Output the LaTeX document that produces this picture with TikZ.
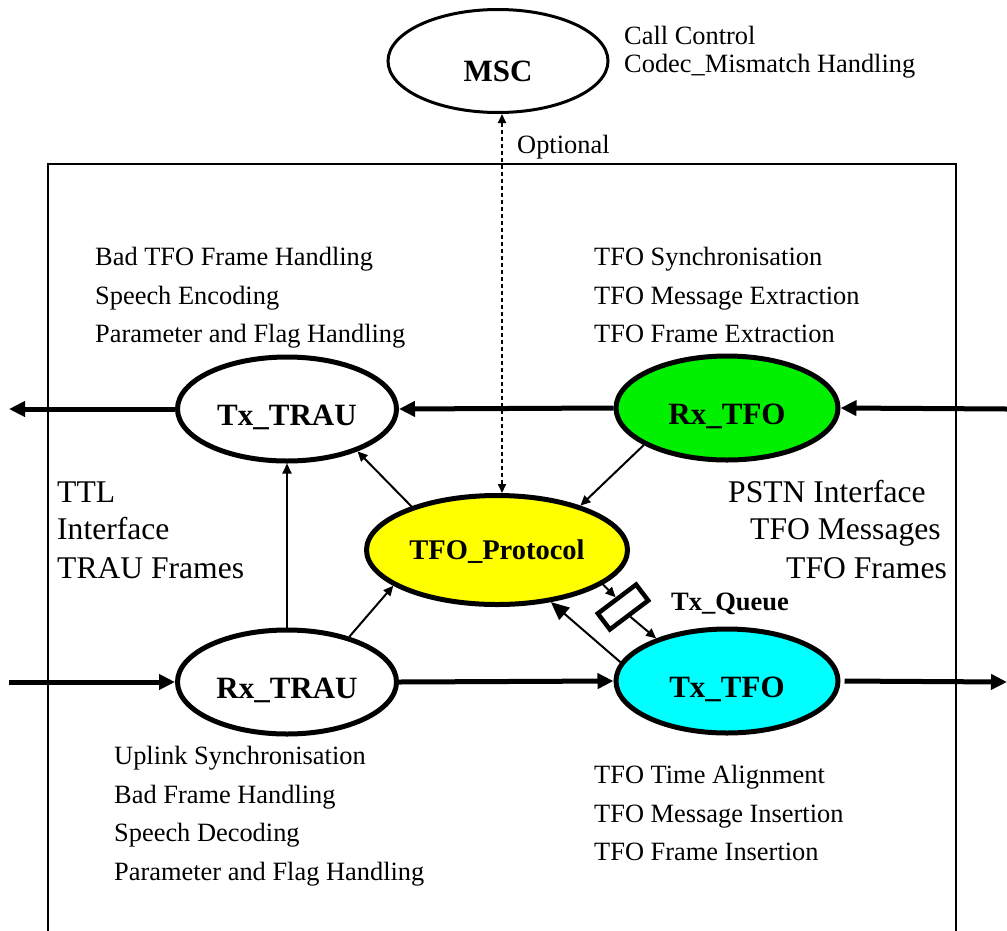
\documentclass[tikz,border=0pt]{standalone}
\usepackage{fontspec}
\setmainfont{Liberation Serif}
\usetikzlibrary{shapes.geometric,arrows.meta}
\definecolor{tfogreen}{RGB}{0,240,0}
\definecolor{tfoyellow}{RGB}{255,255,0}
\definecolor{tfocyan}{RGB}{0,255,255}
\tikzset{
  proc/.style={ellipse, draw, line width=5pt, fill=white, inner sep=0pt,
    minimum width=219pt, minimum height=104pt, text height=33pt, text depth=0pt,
    font=\bfseries\fontsize{31}{36}\selectfont},
  txt/.style={anchor=west, inner sep=0pt, align=left,
    font=\fontsize{26.4}{38.5}\selectfont},
  bigtxt/.style={anchor=base west, inner sep=0pt,
    font=\fontsize{31.6}{38}\selectfont},
  fat/.style={line width=5pt, -{Triangle[length=16pt,width=15pt]}},
  thin/.style={line width=2pt, -{Triangle[length=10pt,width=9pt]}}
}
\begin{document}
\begin{tikzpicture}[x=1pt,y=-1pt]
\useasboundingbox (0,0) rectangle (1007,930);
% frame
\draw[line width=1.5pt] (48,940) -- (48,164) -- (956,164) -- (956,940);
% processes
\node[proc, line width=3pt, minimum width=220pt, minimum height=103pt, text height=41pt] (msc) at (498,61) {MSC};
\node[proc] (txtrau) at (287,409) {Tx\_TRAU};
\node[proc, fill=tfogreen, minimum width=222pt] (rxtfo) at (727,408) {Rx\_TFO};
\node[proc, fill=tfoyellow, minimum width=261pt, minimum height=109pt, text height=19pt,
  font=\bfseries\fontsize{28.5}{34}\selectfont] (proto) at (497,550) {TFO\_Protocol};
\node[proc] (rxtrau) at (287,682) {Rx\_TRAU};
\node[proc, fill=tfocyan, minimum width=222pt] (txtfo) at (727,681) {Tx\_TFO};
\node[draw, line width=4.5pt, fill=white, minimum width=48pt, minimum height=20pt,
  inner sep=0pt, rotate=37] (queue) at (623,607) {};
\node[anchor=west, inner sep=0pt, font=\bfseries\fontsize{26.5}{30}\selectfont] (queuelbl) at (671,604) {Tx\_Queue};
% texts
\node[txt, font=\fontsize{26.4}{28}\selectfont] (msctxt) at (624,52) {Call Control\\Codec\_Mismatch Handling};
\node[txt] (optlbl) at (517,147) {Optional};
\node[txt] (txtraututxt) at (95,298) {Bad TFO Frame Handling\\Speech Encoding\\Parameter and Flag Handling};
\node[txt] (rxtfotxt) at (594,295) {TFO Synchronisation\\TFO Message Extraction\\TFO Frame Extraction};
\node[txt] (rxtrautxt) at (114,816) {Uplink Synchronisation\\Bad Frame Handling\\Speech Decoding\\Parameter and Flag Handling};
\node[txt] (txtfotxt) at (594,813) {TFO Time Alignment\\TFO Message Insertion\\TFO Frame Insertion};
\node[bigtxt] (ttl1) at (57,502) {TTL};
\node[bigtxt] (ttl2) at (57,539) {Interface};
\node[bigtxt] (ttl3) at (57,578) {TRAU Frames};
\node[bigtxt] (pstn1) at (728,502) {PSTN Interface};
\node[bigtxt] (pstn2) at (750,539) {TFO Messages};
\node[bigtxt] (pstn3) at (786,578) {TFO Frames};
% outer ends
\coordinate (outL) at (9,409);
\coordinate (inR) at (1007,409);
\coordinate (inL) at (9,682);
\coordinate (outR) at (1007,682);
% main flow
\draw[fat] (txtrau.west) -- (outL);
\draw[fat] (rxtfo.west) -- (txtrau.east);
\draw[fat] (inR) -- (rxtfo.east);
\draw[fat] (inL) -- (rxtrau.west);
\draw[fat] (rxtrau.east) -- (txtfo.west);
\draw[fat, shorten <=4pt] (txtfo.east) -- (outR);
% control flow
\draw[thin] (rxtrau.north) -- (txtrau.south);
\draw[thin] (proto.153) -- (txtrau.-31);
\draw[thin] (rxtrau.36) -- (proto.-161);
\draw[thin] (rxtfo.204) -- (proto.28);
\draw[thin] (proto.-18) -- (queue.north);
\draw[thin] (queue.south) -- (txtfo.149);
\draw[line width=2pt, -{Triangle[length=18pt,width=16pt]}] (txtfo.170) -- (proto.-44);
\draw[line width=2pt, dash pattern=on 4pt off 3pt,
  {Triangle[length=9pt,width=8pt]}-{Triangle[length=9pt,width=8pt]}] (msc.south -| 502,0) -- (proto.north -| 502,0);
\end{tikzpicture}
\end{document}
